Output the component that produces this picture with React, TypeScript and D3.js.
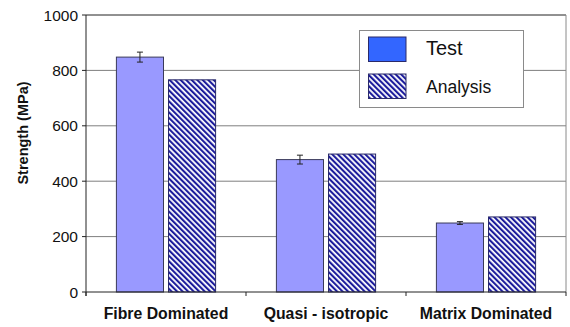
import React from "react";
import * as d3 from "d3";

const categories = ["Fibre Dominated", "Quasi - isotropic", "Matrix Dominated"];
const seriesNames = ["Test", "Analysis"];
const testValues = [848, 478, 249];
const testErrors = [18, 16, 5];
const analysisValues = [766, 498, 271];
const yTicks = [0, 200, 400, 600, 800, 1000];

const W = 570;
const H = 327;
const left = 86;
const right = 566;
const top = 15;
const bottom = 292;

export default function App() {
  const x0 = d3.scaleBand<string>().domain(categories).range([left, right]).paddingInner(0.38).paddingOuter(0.19);
  const x1 = d3.scaleBand<string>().domain(seriesNames).range([0, x0.bandwidth()]).paddingInner(0.096);
  const y = d3.scaleLinear().domain([0, 1000]).range([bottom, top]);
  const font = "'Liberation Sans', Arial, Helvetica, sans-serif";
  const navy = "#1c1c9c";
  const catEdges = [left, ...categories.map((c) => (x0(c) as number) + x0.bandwidth() + (x0.step() - x0.bandwidth()) / 2)];

  return (
    <svg width={W} height={H} style={{ position: "absolute", left: 0, top: 0, background: "#fff" }} fontFamily={font}>
      <defs>
        <pattern id="diag" width={3.9} height={10} patternUnits="userSpaceOnUse" patternTransform="rotate(-45)">
          <rect x={0} y={0} width={3.9} height={10} fill="#fff" />
          <rect x={0} y={0} width={2.1} height={10} fill={navy} />
        </pattern>
      </defs>
      <rect x={0} y={0} width={W} height={H} fill="#fff" />
      {/* gridlines */}
      {yTicks.filter((t) => t > 0 && t < 1000).map((t) => (
        <line key={t} x1={left} x2={right} y1={y(t)} y2={y(t)} stroke="#7f7f7f" strokeWidth={1} />
      ))}
      {/* frame */}
      <line x1={left} x2={right} y1={top} y2={top} stroke="#222" strokeWidth={1} />
      <line x1={right} x2={right} y1={top} y2={bottom} stroke="#8a8a8a" strokeWidth={1} />
      {/* bars */}
      {categories.map((c, i) => {
        const bx = x0(c) as number;
        const tx = bx + (x1("Test") as number);
        const ax = bx + (x1("Analysis") as number);
        const bw = x1.bandwidth();
        const cx = tx + bw / 2;
        return (
          <g key={c}>
            <rect x={tx} y={y(testValues[i])} width={bw} height={y(0) - y(testValues[i])} fill="#9999ff" stroke="#3a3a5a" strokeWidth={1} />
            <rect x={ax} y={y(analysisValues[i])} width={bw} height={y(0) - y(analysisValues[i])} fill="url(#diag)" stroke="#2a2a6a" strokeWidth={1} />
            <line x1={cx} x2={cx} y1={y(testValues[i] + testErrors[i])} y2={y(testValues[i] - testErrors[i])} stroke="#222" strokeWidth={1} />
            <line x1={cx - 3} x2={cx + 3} y1={y(testValues[i] + testErrors[i])} y2={y(testValues[i] + testErrors[i])} stroke="#222" strokeWidth={1} />
            <line x1={cx - 3} x2={cx + 3} y1={y(testValues[i] - testErrors[i])} y2={y(testValues[i] - testErrors[i])} stroke="#222" strokeWidth={1} />
          </g>
        );
      })}
      {/* axes */}
      <line x1={left} x2={left} y1={top} y2={bottom + 4} stroke="#222" strokeWidth={1} />
      <line x1={left} x2={right} y1={bottom} y2={bottom} stroke="#222" strokeWidth={1} />
      {yTicks.map((t) => (
        <g key={t}>
          <line x1={left - 4} x2={left} y1={y(t)} y2={y(t)} stroke="#222" strokeWidth={1} />
          <text x={78} y={y(t)} dy="0.36em" textAnchor="end" fontSize={15.5} fill="#111">{t}</text>
        </g>
      ))}
      {catEdges.map((e, i) => (
        <line key={i} x1={e} x2={e} y1={bottom} y2={bottom + 4} stroke="#222" strokeWidth={1} />
      ))}
      {categories.map((c) => (
        <text key={c} x={(x0(c) as number) + x0.bandwidth() / 2} y={319} textAnchor="middle" fontSize={15.8} fontWeight="bold" fill="#111">{c}</text>
      ))}
      <text transform={`translate(28,133) rotate(-90)`} textAnchor="middle" fontSize={14.5} fontWeight="bold" fill="#111">Strength (MPa)</text>
      {/* legend */}
      <rect x={359.5} y={30.5} width={164} height={77} fill="#fff" stroke="#8a8a8a" strokeWidth={1} />
      <rect x={368.5} y={37} width={37.5} height={24.5} fill="#3366ff" stroke="#2a2a6a" strokeWidth={1} />
      <rect x={368.5} y={74} width={37.5} height={24.5} fill="url(#diag)" stroke="#2a2a6a" strokeWidth={1} />
      <text x={426} y={55} fontSize={20} fill="#111">{seriesNames[0]}</text>
      <text x={426} y={93} fontSize={17.5} fill="#111">{seriesNames[1]}</text>
    </svg>
  );
}
